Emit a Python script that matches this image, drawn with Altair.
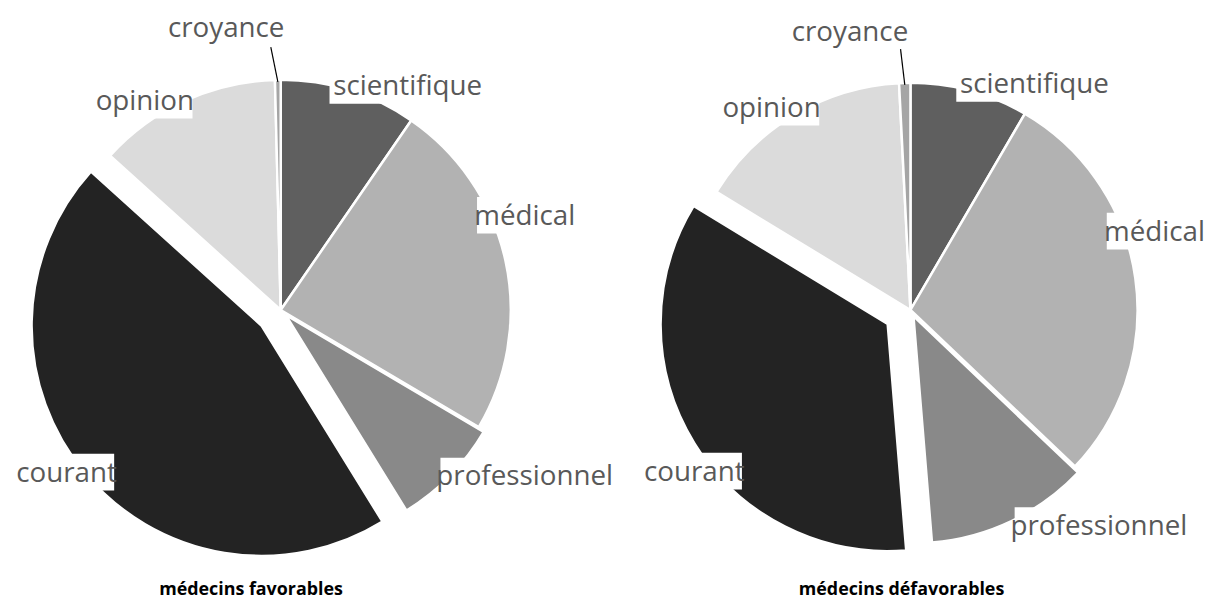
import math
import altair as alt
import pandas as pd

# ---- data ----
categories = ["scientifique", "médical", "professionnel", "courant", "opinion", "croyance"]
favorables = [9.6, 23.9, 7.7, 45.5, 12.9, 0.4]
defavorables = [8.4, 28.7, 11.6, 35.0, 15.5, 0.8]
titles = ["médecins favorables", "médecins défavorables"]

# ---- style / layout ----
colors = ["#5f5f5f", "#b2b2b2", "#898989", "#232323", "#dbdbdb", "#a5a5a5"]
FONT = "Open Sans"
LABEL_COLOR = "#595959"

# per pie: chart width, centre, radius, slice explosion, label offsets (dx of text centre, dy of baseline)
layouts = [
    dict(width=620, cx=275, cy=302, r=232, title_x=245,
         explode={"professionnel": 7, "courant": 25},
         labels={"croyance": (-55, -275), "scientifique": (128, -217), "opinion": (-137, -202),
                 "médical": (246, -86), "professionnel": (246, 177), "courant": (-216, 173)},
         leader=(45, 10)),
    dict(width=577, cx=290, cy=302, r=229, title_x=281,
         explode={"professionnel": 7, "courant": 27},
         labels={"croyance": (-61, -271), "scientifique": (125, -219), "opinion": (-140, -195),
                 "médical": (246, -70), "professionnel": (190, 227), "courant": (-218, 172)},
         leader=(51, 8)),
]
HEIGHT = 595


def make_pie(values, title, lay):
    df = pd.DataFrame({
        "cat": categories,
        "value": values,
        "order": list(range(len(categories))),
        "explode": [lay["explode"].get(c, 0) for c in categories],
    })
    cx, cy, r = lay["cx"], lay["cy"], lay["r"]

    arcs = alt.Chart(df).transform_joinaggregate(
        total="sum(value)"
    ).transform_window(
        cum="sum(value)", sort=[alt.SortField("order")], frame=[None, 0]
    ).transform_calculate(
        mid="(datum.cum - datum.value/2)/datum.total*2*PI",
        ox=f"{cx} + datum.explode*sin(datum.mid)",
        oy=f"{cy} - datum.explode*cos(datum.mid)",
    ).mark_arc(radius=r, stroke="white", strokeWidth=2.5).encode(
        theta=alt.Theta("value:Q", stack=True),
        order=alt.Order("order:Q"),
        x=alt.X("ox:Q", scale=None),
        y=alt.Y("oy:Q", scale=None),
        color=alt.Color("cat:N", scale=alt.Scale(domain=categories, range=colors), legend=None),
    )

    rows = []
    for c in categories:
        dx, dy = lay["labels"][c]
        lx, ly = cx + dx, cy + dy
        w = len(c) * 12.3 + 10
        rows.append(dict(cat=c, lx=lx, ly=ly, x0=lx - w / 2, x1=lx + w / 2, y0=ly - 28, y1=ly + 9))
    ldf = pd.DataFrame(rows)

    boxes = alt.Chart(ldf).transform_filter("datum.cat != 'croyance'").mark_rect(color="white").encode(
        x=alt.X("x0:Q", scale=None), x2="x1:Q",
        y=alt.Y("y0:Q", scale=None), y2="y1:Q",
    )
    texts = alt.Chart(ldf).mark_text(
        font=FONT, fontSize=28, color=LABEL_COLOR, align="center", baseline="alphabetic"
    ).encode(
        x=alt.X("lx:Q", scale=None), y=alt.Y("ly:Q", scale=None), text="cat:N"
    )

    # leader line for the tiny croyance slice
    cum_before = sum(values[:-1])
    mid = (cum_before + values[-1] / 2) / sum(values) * 2 * math.pi
    cdx, cdy = lay["labels"]["croyance"]
    ldx, ldy = lay["leader"]
    lead = pd.DataFrame([dict(
        x0=cx + cdx + ldx, y0=cy + cdy + ldy,
        x1=cx + (r - 2) * math.sin(mid), y1=cy - (r - 2) * math.cos(mid),
    )])
    leader = alt.Chart(lead).mark_rule(color="black", strokeWidth=1.2).encode(
        x=alt.X("x0:Q", scale=None), y=alt.Y("y0:Q", scale=None), x2="x1:Q", y2="y1:Q"
    )

    tdf = pd.DataFrame({"t": [title], "x": [lay["title_x"]], "y": [584]})
    ttl = alt.Chart(tdf).mark_text(
        font=FONT, fontSize=18, fontWeight="bold", color="black", align="center", baseline="middle"
    ).encode(x=alt.X("x:Q", scale=None), y=alt.Y("y:Q", scale=None), text="t:N")

    return alt.layer(arcs, boxes, texts, leader, ttl).properties(width=lay["width"], height=HEIGHT)


left = make_pie(favorables, titles[0], layouts[0])
right = make_pie(defavorables, titles[1], layouts[1])

chart = alt.hconcat(left, right, spacing=0).properties(padding=0).configure_view(stroke=None)
chart.save("out.html", embed_options={"renderer": "svg", "actions": False})
